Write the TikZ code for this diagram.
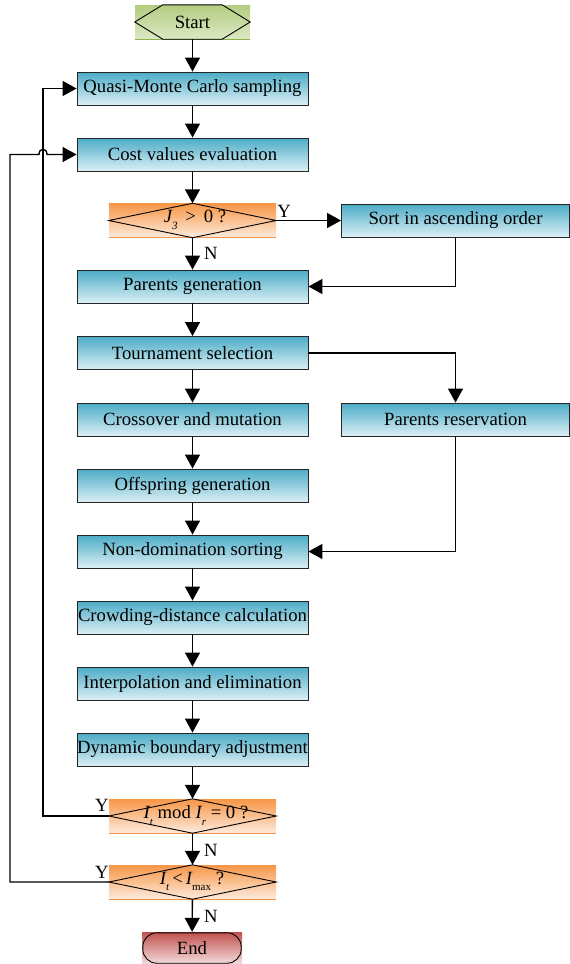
\documentclass[tikz,border=0pt]{standalone}
\usepackage{fontspec}
\setmainfont{Liberation Serif}
\usetikzlibrary{arrows.meta}
\definecolor{boxtop}{HTML}{4BACC6}
\definecolor{boxbot}{HTML}{DCEFF5}
\definecolor{ortop}{HTML}{F79646}
\definecolor{orbot}{HTML}{FDEBDD}
\definecolor{orline}{HTML}{F0924A}
\definecolor{grtop}{HTML}{B3CC80}
\definecolor{grbot}{HTML}{DCE8C4}
\definecolor{grline}{HTML}{8DB050}
\definecolor{rdtop}{HTML}{C0504D}
\definecolor{rdbot}{HTML}{F4DEDD}
\begin{document}
\begin{tikzpicture}[x=1pt,y=-1pt,
  font=\fontsize{18.7}{22}\selectfont,
  bluebox/.style={rectangle, draw=black!85, line width=0.9pt, top color=boxtop, bottom color=boxbot, minimum width=231pt, minimum height=33pt, inner sep=0pt},
  sidebox/.style={bluebox, minimum width=228pt},
  decbox/.style={rectangle, top color=ortop, bottom color=orbot, minimum width=167pt, minimum height=34pt, inner sep=0pt},
  startbox/.style={rectangle, top color=grtop, bottom color=grbot, minimum width=115pt, minimum height=34pt, inner sep=0pt},
  endbox/.style={rectangle, top color=rdtop, bottom color=rdbot, minimum width=100pt, minimum height=32pt, inner sep=0pt},
  outline/.style={draw=black, line width=0.9pt},
  arr/.style={draw=black, line width=1.4pt, -{Triangle[length=14pt,width=15pt]}},
  lbl/.style={inner sep=0pt}
]
\useasboundingbox (0,0) rectangle (570,964);

% start
\node[startbox] (start) at (192.5,22) {Start};
\draw[grline, line width=1pt] (start.south west) -- (start.south east);
\draw[outline] (start.west) -- ([xshift=28pt]start.north west) -- ([xshift=-28pt]start.north east) -- (start.east) -- ([xshift=-28pt]start.south east) -- ([xshift=28pt]start.south west) -- cycle;

% main column
\node[bluebox] (qmc) at (192.5,88.5) {Quasi-Monte Carlo sampling};
\node[bluebox] (cost) at (192.5,154.5) {Cost values evaluation};
\node[decbox] (d1) at (192.5,220.5) {};
\draw[orline, line width=1pt] (d1.south west) -- (d1.south east);
\draw[outline] (d1.west) -- (d1.north) -- (d1.east) -- (d1.south) -- cycle;
\node[lbl] (d1t) at (195,220) {{\itshape J}\raisebox{-0.35em}{\fontsize{11}{11}\selectfont\itshape 3} \,>\, 0 ?};
\node[sidebox] (sort) at (455.5,220.5) {Sort in ascending order};
\node[bluebox] (pg) at (192.5,286.5) {Parents generation};
\node[bluebox] (ts) at (192.5,353) {Tournament selection};
\node[bluebox] (cm) at (192.5,419.5) {Crossover and mutation};
\node[sidebox] (pr) at (455.5,419.5) {Parents reservation};
\node[bluebox] (og) at (192.5,485.5) {Offspring generation};
\node[bluebox] (nd) at (192.5,551.5) {Non-domination sorting};
\node[bluebox] (cd) at (192.5,617.5) {Crowding-distance calculation};
\node[bluebox] (ie) at (192.5,683.5) {Interpolation and elimination};
\node[bluebox] (dba) at (192.5,749.5) {Dynamic boundary adjustment};

\node[decbox] (d2) at (192.5,816) {};
\draw[orline, line width=1pt] (d2.south west) -- (d2.south east);
\draw[outline] (d2.west) -- (d2.north) -- (d2.east) -- (d2.south) -- cycle;
\node[lbl] (d2t) at (196,815.5) {{\itshape I}\raisebox{-0.35em}{\fontsize{11}{11}\selectfont\itshape t} mod {\itshape I}\raisebox{-0.35em}{\fontsize{11}{11}\selectfont\itshape r} = 0 ?};

\node[decbox] (d3) at (192.5,882) {};
\draw[orline, line width=1pt] (d3.south west) -- (d3.south east);
\draw[outline] (d3.west) -- (d3.north) -- (d3.east) -- (d3.south) -- cycle;
\node[lbl] (d3t) at (192,881.5) {{\itshape I}\raisebox{-0.35em}{\fontsize{11}{11}\selectfont\itshape t}\,<\,{\itshape I}\raisebox{-0.35em}{\fontsize{11}{11}\selectfont max} ?};

\node[endbox] (end) at (192,948) {End};
\draw[outline, rounded corners=14pt] ([xshift=1pt,yshift=-1pt]end.north west) rectangle ([xshift=-1pt,yshift=1pt]end.south east);

% labels
\node[lbl] (y1) at (284,211) {Y};
\node[lbl] (n1) at (211,253) {N};
\node[lbl] (y2) at (102,805) {Y};
\node[lbl] (n2) at (211,850) {N};
\node[lbl] (y3) at (102,872) {Y};
\node[lbl] (n3) at (211,916) {N};

% coordinates for loop
\coordinate (lp2) at (10,154.5);
\coordinate (jl) at (39,154.5);
\coordinate (jr) at (47,154.5);

% connectors
\draw[arr] (start) -- (qmc);
\draw[arr] (qmc) -- (cost);
\draw[arr] (cost) -- (d1);
\draw[arr] (d1) -- (pg);
\draw[arr] (d1.east) -- (sort.west);
\draw[arr] (sort.south) |- (pg.east);
\draw[arr] (pg) -- (ts);
\draw[arr] (ts) -- (cm);
\draw[arr] (ts.east) -| (pr.north);
\draw[arr] (cm) -- (og);
\draw[arr] (og) -- (nd);
\draw[arr] (pr.south) |- (nd.east);
\draw[arr] (nd) -- (cd);
\draw[arr] (cd) -- (ie);
\draw[arr] (ie) -- (dba);
\draw[arr] (dba) -- (d2);
\draw[arr] (d2) -- (d3);
\draw[arr] (d3) -- (end);
\draw[arr] (d2.west) -- ++(-66,0) |- (qmc.west);
\draw[arr] (d3.west) -| (lp2) -- (jl) .. controls (39,147.5) and (47,147.5) .. (jr) -- (cost.west);
\end{tikzpicture}
\end{document}
